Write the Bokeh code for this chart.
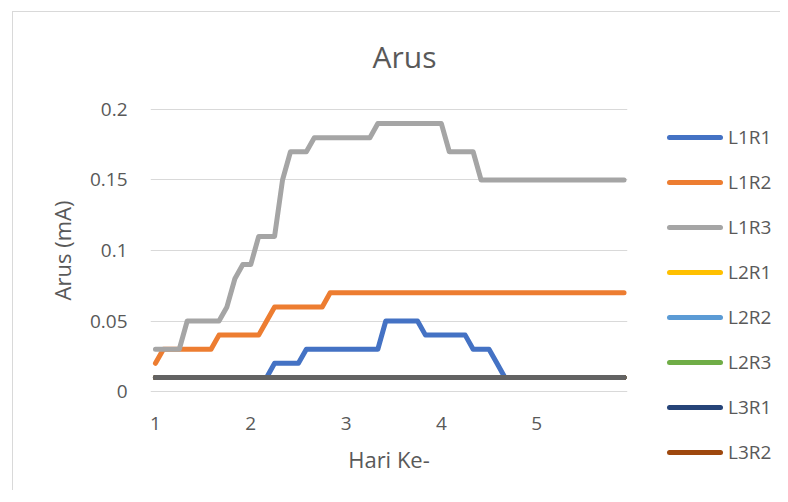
from bokeh.plotting import figure
from bokeh.models import Range1d, FixedTicker, Div
from bokeh.layouts import row
from bokeh.embed import file_html
from bokeh.resources import INLINE

# ---- data ----
days = [1, 2, 3, 4, 5]
slots_per_day = 12  # readings per day (every 2 hours)
x_tick_labels = ["1", "2", "3", "4", "5"]
y_ticks = [0, 0.05, 0.1, 0.15, 0.2]
y_tick_labels = ["0", "0.05", "0.1", "0.15", "0.2"]

L1R1 = [0.01, 0.01, 0.01, 0.01, 0.01, 0.01, 0.01, 0.01, 0.01, 0.01, 0.01, 0.01,
        0.01, 0.01, 0.01, 0.02, 0.02, 0.02, 0.02, 0.03, 0.03, 0.03, 0.03, 0.03,
        0.03, 0.03, 0.03, 0.03, 0.03, 0.05, 0.05, 0.05, 0.05, 0.05, 0.04, 0.04,
        0.04, 0.04, 0.04, 0.04, 0.03, 0.03, 0.03, 0.02, 0.01, 0.01, 0.01, 0.01,
        0.01, 0.01, 0.01, 0.01, 0.01, 0.01, 0.01, 0.01, 0.01, 0.01, 0.01, 0.01]
L1R2 = [0.02, 0.03, 0.03, 0.03, 0.03, 0.03, 0.03, 0.03, 0.04, 0.04, 0.04, 0.04,
        0.04, 0.04, 0.05, 0.06, 0.06, 0.06, 0.06, 0.06, 0.06, 0.06, 0.07, 0.07,
        0.07, 0.07, 0.07, 0.07, 0.07, 0.07, 0.07, 0.07, 0.07, 0.07, 0.07, 0.07,
        0.07, 0.07, 0.07, 0.07, 0.07, 0.07, 0.07, 0.07, 0.07, 0.07, 0.07, 0.07,
        0.07, 0.07, 0.07, 0.07, 0.07, 0.07, 0.07, 0.07, 0.07, 0.07, 0.07, 0.07]
L1R3 = [0.03, 0.03, 0.03, 0.03, 0.05, 0.05, 0.05, 0.05, 0.05, 0.06, 0.08, 0.09,
        0.09, 0.11, 0.11, 0.11, 0.15, 0.17, 0.17, 0.17, 0.18, 0.18, 0.18, 0.18,
        0.18, 0.18, 0.18, 0.18, 0.19, 0.19, 0.19, 0.19, 0.19, 0.19, 0.19, 0.19,
        0.19, 0.17, 0.17, 0.17, 0.17, 0.15, 0.15, 0.15, 0.15, 0.15, 0.15, 0.15,
        0.15, 0.15, 0.15, 0.15, 0.15, 0.15, 0.15, 0.15, 0.15, 0.15, 0.15, 0.15]
FLAT = [0.01, 0.01, 0.01, 0.01, 0.01, 0.01, 0.01, 0.01, 0.01, 0.01, 0.01, 0.01,
        0.01, 0.01, 0.01, 0.01, 0.01, 0.01, 0.01, 0.01, 0.01, 0.01, 0.01, 0.01,
        0.01, 0.01, 0.01, 0.01, 0.01, 0.01, 0.01, 0.01, 0.01, 0.01, 0.01, 0.01,
        0.01, 0.01, 0.01, 0.01, 0.01, 0.01, 0.01, 0.01, 0.01, 0.01, 0.01, 0.01,
        0.01, 0.01, 0.01, 0.01, 0.01, 0.01, 0.01, 0.01, 0.01, 0.01, 0.01, 0.01]
L2R1 = FLAT
L2R2 = FLAT
L2R3 = FLAT
L3R1 = FLAT
L3R2 = FLAT
L3R3 = FLAT

series_names = ["L1R1", "L1R2", "L1R3", "L2R1", "L2R2", "L2R3", "L3R1", "L3R2", "L3R3"]
series_values = [L1R1, L1R2, L1R3, L2R1, L2R2, L2R3, L3R1, L3R2, L3R3]
colors = ["#4472C4", "#ED7D31", "#A5A5A5", "#FFC000", "#5B9BD5",
          "#70AD47", "#264478", "#9E480E", "#636363"]
legend_count = 8  # the legend box shows only the first eight series

# x position of each reading: day + fraction of the day
xs = [d + s / slots_per_day for d in days for s in range(slots_per_day)]

FONT = "Open Sans"
TXT = "#595959"

p = figure(width=640, height=490, output_backend="svg", toolbar_location=None,
           x_range=Range1d(0.948, 5.953), y_range=Range1d(-0.0007, 0.2007),
           min_border_left=150, min_border_right=13, min_border_top=108,
           min_border_bottom=98, title="Arus")

p.title.align = "left"
p.title.offset = 222
p.title.text_font = FONT
p.title.text_font_size = "30px"
p.title.text_font_style = "normal"
p.title.text_color = TXT
p.title.standoff = 64

p.outline_line_color = None
p.background_fill_alpha = 0
p.border_fill_alpha = 0

p.xgrid.grid_line_color = None
p.ygrid.grid_line_color = "#d9d9d9"
p.ygrid.grid_line_width = 1

p.xaxis.ticker = FixedTicker(ticks=days)
p.xaxis.major_label_overrides = {d: t for d, t in zip(days, x_tick_labels)}
p.yaxis.ticker = FixedTicker(ticks=y_ticks)
p.yaxis.major_label_overrides = {v: t for v, t in zip(y_ticks, y_tick_labels)}

for ax in (p.xaxis, p.yaxis):
    ax.axis_line_color = None
    ax.major_tick_line_color = None
    ax.minor_tick_line_color = None
    ax.major_tick_out = 0
    ax.major_tick_in = 0
    ax.major_label_text_font = FONT
    ax.major_label_text_font_size = "19px"
    ax.major_label_text_color = TXT
    ax.axis_label_text_font = FONT
    ax.axis_label_text_font_size = "22px"
    ax.axis_label_text_font_style = "normal"
    ax.axis_label_text_color = TXT

p.xaxis.axis_label = "Hari Ke-"
p.yaxis.axis_label = "Arus (mA)"
p.xaxis.major_label_standoff = 24
p.xaxis.axis_label_standoff = 11
p.yaxis.major_label_standoff = 23
p.yaxis.axis_label_standoff = 10

for name, vals, c in zip(series_names, series_values, colors):
    p.line(xs, vals, line_color=c, line_width=5,
           line_cap="round", line_join="round")

# legend column to the right of the plot area (Excel shows 8 entries)
rows_html = []
for i, (name, c) in enumerate(zip(series_names[:legend_count], colors[:legend_count])):
    rows_html.append(
        f'<div style="position:absolute;left:27px;top:{124 + 45 * i}px;height:26px;'
        f'display:flex;align-items:center;white-space:nowrap;">'
        f'<span style="display:inline-block;width:56px;height:5px;border-radius:3px;'
        f'background:{c};"></span>'
        f'<span style="margin-left:5px;font-family:\'Open Sans\';font-size:19px;'
        f'line-height:26px;color:{TXT};">{name}</span></div>')
legend_div = Div(text='<div style="position:relative;width:140px;height:490px;">'
                 + "".join(rows_html) + "</div>",
                 width=140, height=490, margin=0)

# chart-area border (left and top edges) drawn as page background
border_bg = ("linear-gradient(#d9d9d9, #d9d9d9) 12px 11px / 1px 100% no-repeat, "
             "linear-gradient(#d9d9d9, #d9d9d9) 12px 11px / 100% 1px no-repeat, white")
layout = row(p, legend_div, styles={"background": border_bg})
open("out.html", "w").write(file_html(layout, INLINE))
